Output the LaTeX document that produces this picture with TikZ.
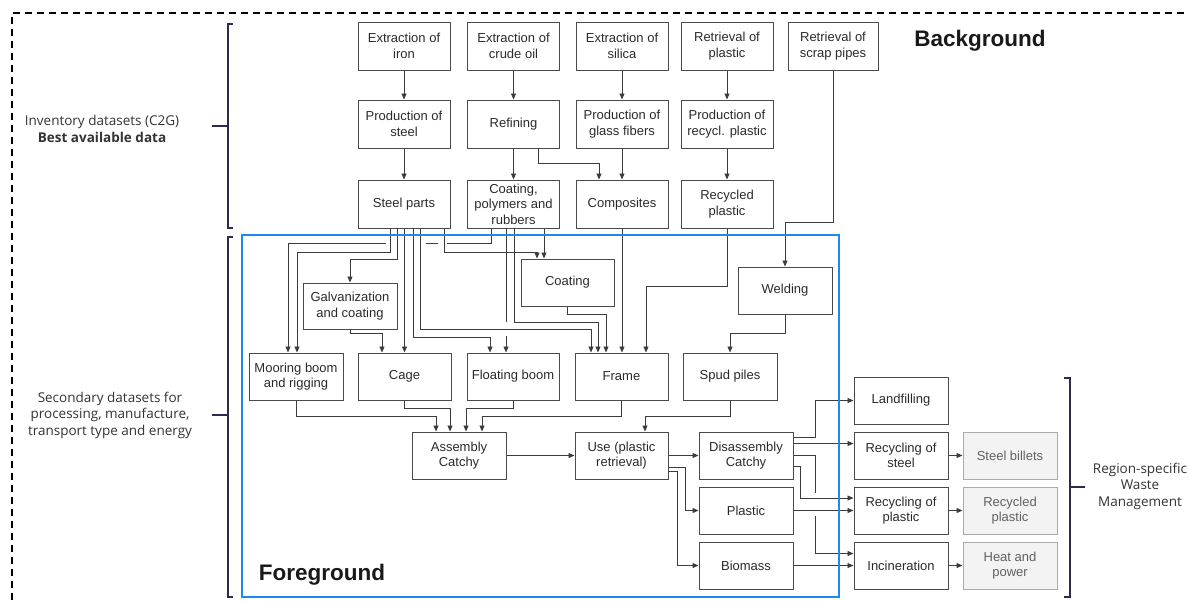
\documentclass[tikz,border=0pt]{standalone}
\usepackage{fontspec}
\setmainfont{Liberation Sans}
\newfontfamily\osans{Open Sans}
\usetikzlibrary{arrows.meta,calc}
\definecolor{bord}{HTML}{4A4A4A}
\definecolor{ln}{HTML}{3C3C3C}
\definecolor{fgblue}{HTML}{1E88F0}
\definecolor{brk}{HTML}{2E2A4E}
\definecolor{gfill}{HTML}{F3F3F3}
\definecolor{gbord}{HTML}{ABABAB}
\definecolor{txt}{HTML}{2A2A2A}
\begin{document}
\begin{tikzpicture}[x=1pt,y=-1pt,
 box/.style={draw=bord, line width=1pt, minimum width=92pt, minimum height=47pt, inner sep=1pt, align=center, font=\fontsize{13}{15.5}\selectfont, text=txt},
 gbox/.style={box, draw=gbord, fill=gfill, text=black!62},
 conn/.style={draw=ln, line width=0.9pt, -{Triangle[length=6pt,width=5pt]}},
 gapw/.style={draw=white, line width=3pt},
 brace/.style={draw=brk, line width=1.8pt},
 side/.style={font=\osans\fontsize{13.5}{16.5}\selectfont, align=center, text=black!80},
 title/.style={font=\bfseries\fontsize{22.5}{26}\selectfont, text=black!90}
]
\useasboundingbox (0,0) rectangle (1189,600);
\clip (0,0) rectangle (1189,600);
\draw[black, line width=1.2pt, dash pattern=on 7pt off 5pt] (12,612) -- (12,13) -- (1200,13);

% row 1
\node[box, minimum height=48pt] (iron) at (404,46) {Extraction of\\iron};
\node[box, minimum height=48pt] (crude) at (513.5,46) {Extraction of\\crude oil};
\node[box, minimum height=48pt] (silica) at (622,46) {Extraction of\\silica};
\node[box, minimum height=48pt] (retplas) at (727,46) {Retrieval of\\plastic};
\node[box, minimum height=48pt, minimum width=90pt] (scrap) at (833,46) {Retrieval of\\scrap pipes};
% row 2
\node[box, minimum height=48pt] (steel) at (404,124) {Production of\\steel};
\node[box, minimum height=48pt] (refining) at (513.5,124) {Refining};
\node[box, minimum height=48pt] (glass) at (622,124) {Production of\\glass fibers};
\node[box, minimum height=48pt] (recycl) at (727,124) {Production of\\recycl. plastic};
% row 3
\node[box, minimum height=48pt] (steelparts) at (404,204) {Steel parts};
\node[box, minimum height=48pt] (cpr) at (513.5,204) {Coating,\\polymers and\\rubbers};
\node[box, minimum height=48pt] (composites) at (622,204) {Composites};
\node[box, minimum height=48pt] (recplastic) at (727,204) {Recycled\\plastic};
% foreground
\node[box, minimum width=94pt, minimum height=46pt] (galv) at (350,306) {Galvanization\\and coating};
\node[box, minimum width=93pt] (coatb) at (567.5,282.5) {Coating};
\node[box, minimum width=94pt] (welding) at (785,290.5) {Welding};
\node[box, minimum width=94pt] (mooring) at (296,376.5) {Mooring boom\\and rigging};
\node[box, minimum width=93pt] (cage) at (404.5,376.5) {Cage};
\node[box] (floating) at (513,376.5) {Floating boom};
\node[box, minimum width=93pt] (frame) at (621.5,376.5) {Frame};
\node[box, minimum width=94pt] (spud) at (730,376.5) {Spud piles};
\node[box, minimum width=94pt] (assembly) at (459,455.5) {Assembly\\Catchy};
\node[box, minimum width=93pt] (use) at (621.5,455.5) {Use (plastic\\retrieval)};
\node[box, minimum width=94pt] (disassembly) at (746,455.5) {Disassembly\\Catchy};
\node[box, minimum width=94pt] (plastic) at (746,510.5) {Plastic};
\node[box, minimum width=94pt] (biomass) at (746,565.5) {Biomass};
% waste
\node[box, minimum width=94pt] (landfill) at (901,400.5) {Landfilling};
\node[box, minimum width=94pt] (recsteel) at (901,455.5) {Recycling of\\steel};
\node[box, minimum width=94pt] (recplas) at (901,510.5) {Recycling of\\plastic};
\node[box, minimum width=94pt] (incin) at (901,565.5) {Incineration};
\node[gbox, minimum width=94pt] (billets) at (1010,455.5) {Steel billets};
\node[gbox, minimum width=94pt] (grecpl) at (1010,510.5) {Recycled\\plastic};
\node[gbox, minimum width=94pt] (heat) at (1010,565.5) {Heat and\\power};

% background connectors
\draw[conn] (iron) -- (steel);
\draw[conn] (crude) -- (refining);
\draw[conn] (silica) -- (glass);
\draw[conn] (retplas) -- (recycl);
\draw[conn] (steel) -- (steelparts);
\draw[conn] (refining) -- (cpr);
\draw[conn] (glass) -- (composites);
\draw[conn] (recycl) -- (recplastic);
\draw[conn] ([xshift=24.5pt]refining.south) -- ++(0,15) -| ([xshift=-23pt]composites.north);
\draw[conn] (scrap.south) -- (833,222) -| (welding.north);

% CPR to mooring with gaps
\draw[conn] ([xshift=-22.5pt]cpr.south) |- (288,243) -- ([xshift=-8pt]mooring.north);
\draw[gapw] (386,243) -- (426,243);
\draw[gapw] (438,243) -- (447,243);
% steel parts lines
\draw[conn] ([xshift=-14pt]steelparts.south) |- (297,252) -- ([xshift=1pt]mooring.north);
\draw[conn] ([xshift=-7pt]steelparts.south) |- (350,259) -- (galv.north);
\draw[conn] (steelparts.south -| cage.north) -- (cage.north);
\draw[conn] ([xshift=9pt]steelparts.south) |- (490,337) -- ([xshift=-23pt]floating.north);
\draw[conn] ([xshift=40pt]steelparts.south) |- (537,252) -- ([xshift=-30.5pt]coatb.north);
\draw[conn] ([xshift=-7.5pt]cpr.south) -- ([xshift=-7pt]floating.north);
\draw[gapw] (506,322) -- (506,336);
\draw[conn] ([xshift=16pt]steelparts.south) |- (591,329) -- ([xshift=-30.5pt]frame.north);
\draw[conn] ([xshift=0.5pt]cpr.south) |- (598,322) -- ([xshift=-23.5pt]frame.north);
\draw[conn] ([xshift=30.5pt]cpr.south) -- ([xshift=-23.5pt]coatb.north);
\draw[conn] (galv.south) |- (382,333) -- ([xshift=-22.5pt]cage.north);
\draw[conn] ([xshift=-0.5pt]coatb.south) |- (606,314) -- ([xshift=-15.5pt]frame.north);
\draw[conn] (composites.south) -- (frame.north -| composites.south);
\draw[conn] (recplastic.south) |- (646,286) -- ([xshift=24.5pt]frame.north);
\draw[conn] (welding.south) |- (730,333) -- (spud.north);

% to assembly / use
\draw[conn] (mooring.south) |- (436,416) -- ([xshift=-23pt]assembly.north);
\draw[conn] (cage.south) |- (450,408) -- ([xshift=-9pt]assembly.north);
\draw[conn] (floating.south) |- (466,408) -- ([xshift=7pt]assembly.north);
\draw[conn] (frame.south) |- (482,416) -- ([xshift=23pt]assembly.north);
\draw[conn] (spud.south) |- (645,416) -- ([xshift=23.5pt]use.north);
\draw[conn] (assembly) -- (use);
\draw[conn] (use) -- (disassembly);
\draw[conn] ([yshift=-11.5pt]use.east) -- (685,467) |- (plastic.west);
\draw[conn] ([yshift=-15.5pt]use.east) -- (677,471) |- (biomass.west);

% waste connectors
\draw[conn] ([yshift=18.5pt]disassembly.east) -- (815,437) |- (landfill.west);
\draw[conn] ([yshift=12pt]disassembly.east) -- ([yshift=12pt]recsteel.west);
\draw[conn] (disassembly.east) -- (815,455.5) |- ([yshift=12pt]incin.west);
\draw[gapw] (815,493) -- (815,516);
\draw[conn] ([yshift=-11pt]disassembly.east) -- (800,466.5) |- ([yshift=12.5pt]recplas.west);
\draw[conn] (plastic) -- (recplas);
\draw[conn] (biomass) -- (incin);
\draw[conn] (recsteel) -- (billets);
\draw[conn] (recplas) -- (grecpl);
\draw[conn] (incin) -- (heat);

% foreground frame
\draw[fgblue, line width=2pt] (242,235) rectangle (839,597);

% braces
\draw[brace] (233,24) -- (228,24) -- (228,228) -- (233,228);
\draw[brace] (212,126) -- (228,126);
\draw[brace] (233,237) -- (228,237) -- (228,597) -- (233,597);
\draw[brace] (212,415) -- (228,415);
\draw[brace] (1064,378) -- (1070,378) -- (1070,597) -- (1064,597);
\draw[brace] (1070,487) -- (1085,487);

% labels
\node[side] (inv) at (102,129) {Inventory datasets (C2G)\\\textbf{Best available data}};
\node[side] (sec) at (110,415) {Secondary datasets for\\processing, manufacture,\\transport type and energy};
\node[side] (reg) at (1140,486) {Region-specific\\Waste\\Management};
\node[title] (bg) at (980,41) {Background};
\node[title] (fg) at (322,575) {Foreground};
\end{tikzpicture}
\end{document}
